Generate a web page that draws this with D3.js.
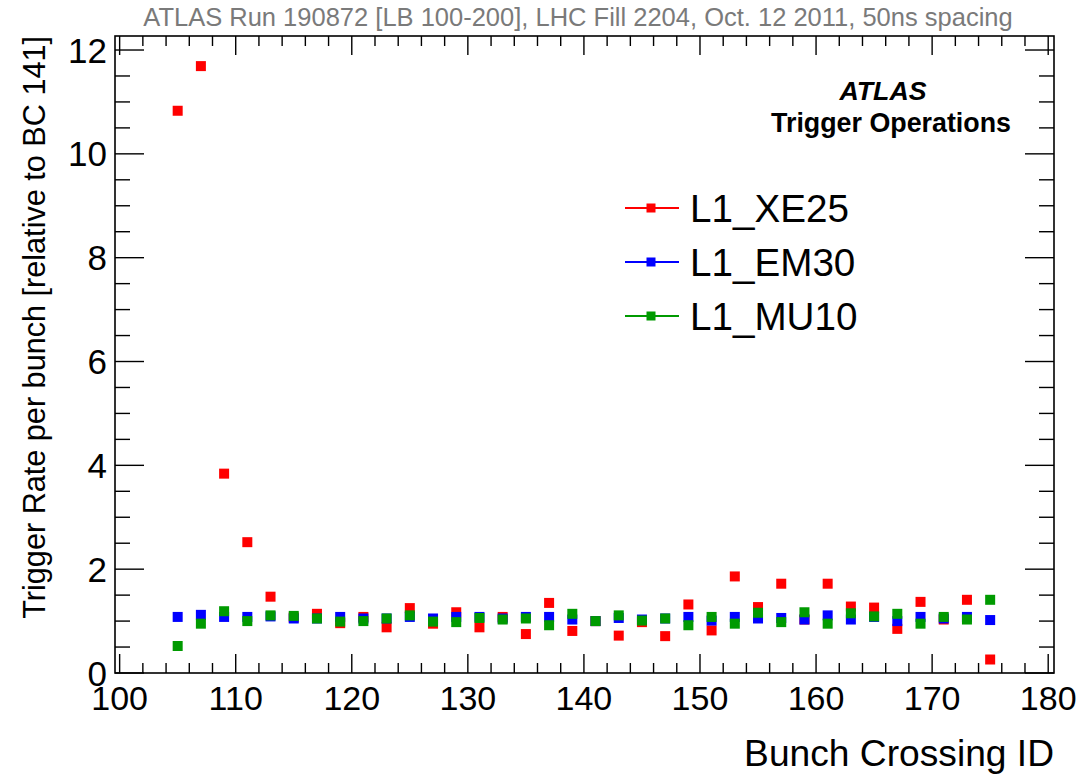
<!DOCTYPE html>
<html>
<head>
<meta charset="utf-8">
<script src="https://cdn.jsdelivr.net/npm/d3@7"></script>
<style>
  html, body { margin: 0; padding: 0; background: #fff; }
  svg { display: block; font-family: "Liberation Sans", Arial, sans-serif; }
</style>
</head>
<body>
<svg id="chart" width="1083" height="775"></svg>
<script>
// Bunch crossing IDs (filled bunches, 50 ns spacing)
const bcid = [105,107,109,111,113,115,117,119,121,123,125,127,129,131,133,135,137,139,
              141,143,145,147,149,151,153,155,157,159,161,163,165,167,169,171,173,175];

// Per-bunch trigger rate relative to BC 141
const xe25 = [10.83,11.69,3.84,2.52,1.47,1.07,1.14,0.96,1.08,0.88,1.25,0.95,1.17,0.88,1.08,0.75,1.35,0.81,
              1.00,0.72,0.98,0.71,1.32,0.82,1.86,1.27,1.72,1.03,1.72,1.28,1.26,0.85,1.37,1.03,1.41,0.26];
const em30 = [1.08,1.12,1.08,1.08,1.09,1.05,1.05,1.08,1.05,1.05,1.08,1.05,1.08,1.08,1.05,1.08,1.08,1.03,
              1.00,1.06,1.03,1.05,1.08,1.01,1.08,1.05,1.06,1.03,1.11,1.03,1.08,1.00,1.08,1.05,1.08,1.02];
const mu10 = [0.52,0.95,1.19,1.00,1.11,1.10,1.05,0.99,1.00,1.05,1.11,0.99,0.98,1.06,1.03,1.05,0.92,1.14,
              1.00,1.11,1.01,1.05,0.92,1.08,0.95,1.16,0.98,1.17,0.95,1.15,1.09,1.14,0.95,1.08,1.03,1.41];

const seriesNames = ["L1_XE25", "L1_EM30", "L1_MU10"];
const seriesColors = ["#ff0000", "#0000ff", "#009a00"];
const seriesValues = [xe25, em30, mu10];

const xMajorTicks = [100,110,120,130,140,150,160,170,180];
const yMajorTicks = [0,2,4,6,8,10,12];

const titleText = "ATLAS Run 190872 [LB 100-200], LHC Fill 2204, Oct. 12 2011, 50ns spacing";
const xTitle = "Bunch Crossing ID";
const yTitle = "Trigger Rate per bunch [relative to BC 141]";

// ---- frame geometry ----
const frame = { left: 115, right: 1054, top: 36, bottom: 673 };

const svg = d3.select("#chart");

const x = d3.scaleLinear().domain([99.6, 180.5]).range([frame.left, frame.right]);
const y = d3.scaleLinear().domain([0, 12.27]).range([frame.bottom, frame.top]);

const xMinor = d3.range(100, 181, 2);
const yMinor = d3.range(0, 12.01, 0.5);

// frame
svg.append("rect")
  .attr("x", frame.left).attr("y", frame.top)
  .attr("width", frame.right - frame.left).attr("height", frame.bottom - frame.top)
  .attr("fill", "none").attr("stroke", "#000").attr("stroke-width", 1.6);

// tick marks on all four sides
const ticks = svg.append("g").attr("stroke", "#000").attr("stroke-width", 1.4);
xMinor.forEach(v => {
  const major = xMajorTicks.includes(v);
  const len = major ? 19 : 10;
  ticks.append("line").attr("x1", x(v)).attr("x2", x(v))
    .attr("y1", frame.bottom).attr("y2", frame.bottom - len);
  ticks.append("line").attr("x1", x(v)).attr("x2", x(v))
    .attr("y1", frame.top).attr("y2", frame.top + len);
});
yMinor.forEach(v => {
  const major = yMajorTicks.includes(v);
  const len = major ? 29 : 15;
  ticks.append("line").attr("y1", y(v)).attr("y2", y(v))
    .attr("x1", frame.left).attr("x2", frame.left + len);
  ticks.append("line").attr("y1", y(v)).attr("y2", y(v))
    .attr("x1", frame.right).attr("x2", frame.right - len);
});

// tick labels
svg.append("g").selectAll("text").data(xMajorTicks).join("text")
  .attr("x", d => x(d)).attr("y", 710)
  .attr("text-anchor", "middle").attr("font-size", 34)
  .text(d => d);

svg.append("g").selectAll("text").data(yMajorTicks).join("text")
  .attr("x", 107).attr("y", d => y(d)).attr("dy", "0.36em")
  .attr("text-anchor", "end").attr("font-size", 35)
  .text(d => d);

// scale a text element's font so it spans the given width
function fitWidth(sel, target) {
  const w = sel.node().getComputedTextLength();
  const fs = parseFloat(sel.attr("font-size"));
  sel.attr("font-size", fs * target / w);
  return fs * target / w;
}

// title
const title = svg.append("text")
  .attr("x", 578).attr("y", 26)
  .attr("text-anchor", "middle").attr("font-size", 24)
  .attr("fill", "#7a7a7a")
  .text(titleText);
fitWidth(title, 870);

// axis titles
const xt = svg.append("text")
  .attr("x", frame.right).attr("y", 766)
  .attr("text-anchor", "end").attr("font-size", 34)
  .text(xTitle);
fitWidth(xt, 310);

const yt = svg.append("text")
  .attr("transform", `translate(45,${frame.top}) rotate(-90)`)
  .attr("text-anchor", "end").attr("font-size", 28)
  .text(yTitle);
fitWidth(yt, 583);

// ATLAS label
const atl = svg.append("text")
  .attr("x", 883).attr("y", 100)
  .attr("text-anchor", "middle").attr("font-size", 22)
  .attr("font-weight", "bold").attr("font-style", "italic")
  .text("ATLAS");
fitWidth(atl, 87);
const sub = svg.append("text")
  .attr("x", 891).attr("y", 132)
  .attr("text-anchor", "middle").attr("font-size", 21)
  .attr("font-weight", "bold")
  .text("Trigger Operations");
fitWidth(sub, 240);

// data markers: red first, then blue, green on top
const ms = 10;
seriesValues.forEach((vals, i) => {
  svg.append("g").attr("fill", seriesColors[i])
    .selectAll("rect").data(bcid.map((b, k) => [b, vals[k]])).join("rect")
    .attr("x", d => x(d[0]) - ms / 2)
    .attr("y", d => y(d[1]) - ms / 2)
    .attr("width", ms).attr("height", ms);
});

// legend
const legY = [208, 262, 316];
const leg = svg.append("g");
let legFont = 36;
seriesNames.forEach((name, i) => {
  const g = leg.append("g").attr("transform", `translate(0,${legY[i]})`);
  g.append("line").attr("x1", 625).attr("x2", 679).attr("y1", 0).attr("y2", 0)
    .attr("stroke", seriesColors[i]).attr("stroke-width", 2.2);
  g.append("rect").attr("x", 651 - 4.5).attr("y", -4.5).attr("width", 9).attr("height", 9)
    .attr("fill", seriesColors[i]);
  const t = g.append("text").attr("x", 690).attr("y", 0).attr("dy", "0.36em")
    .attr("font-size", legFont).text(name);
  if (i === 0) legFont = fitWidth(t, 159);
});
</script>
</body>
</html>
